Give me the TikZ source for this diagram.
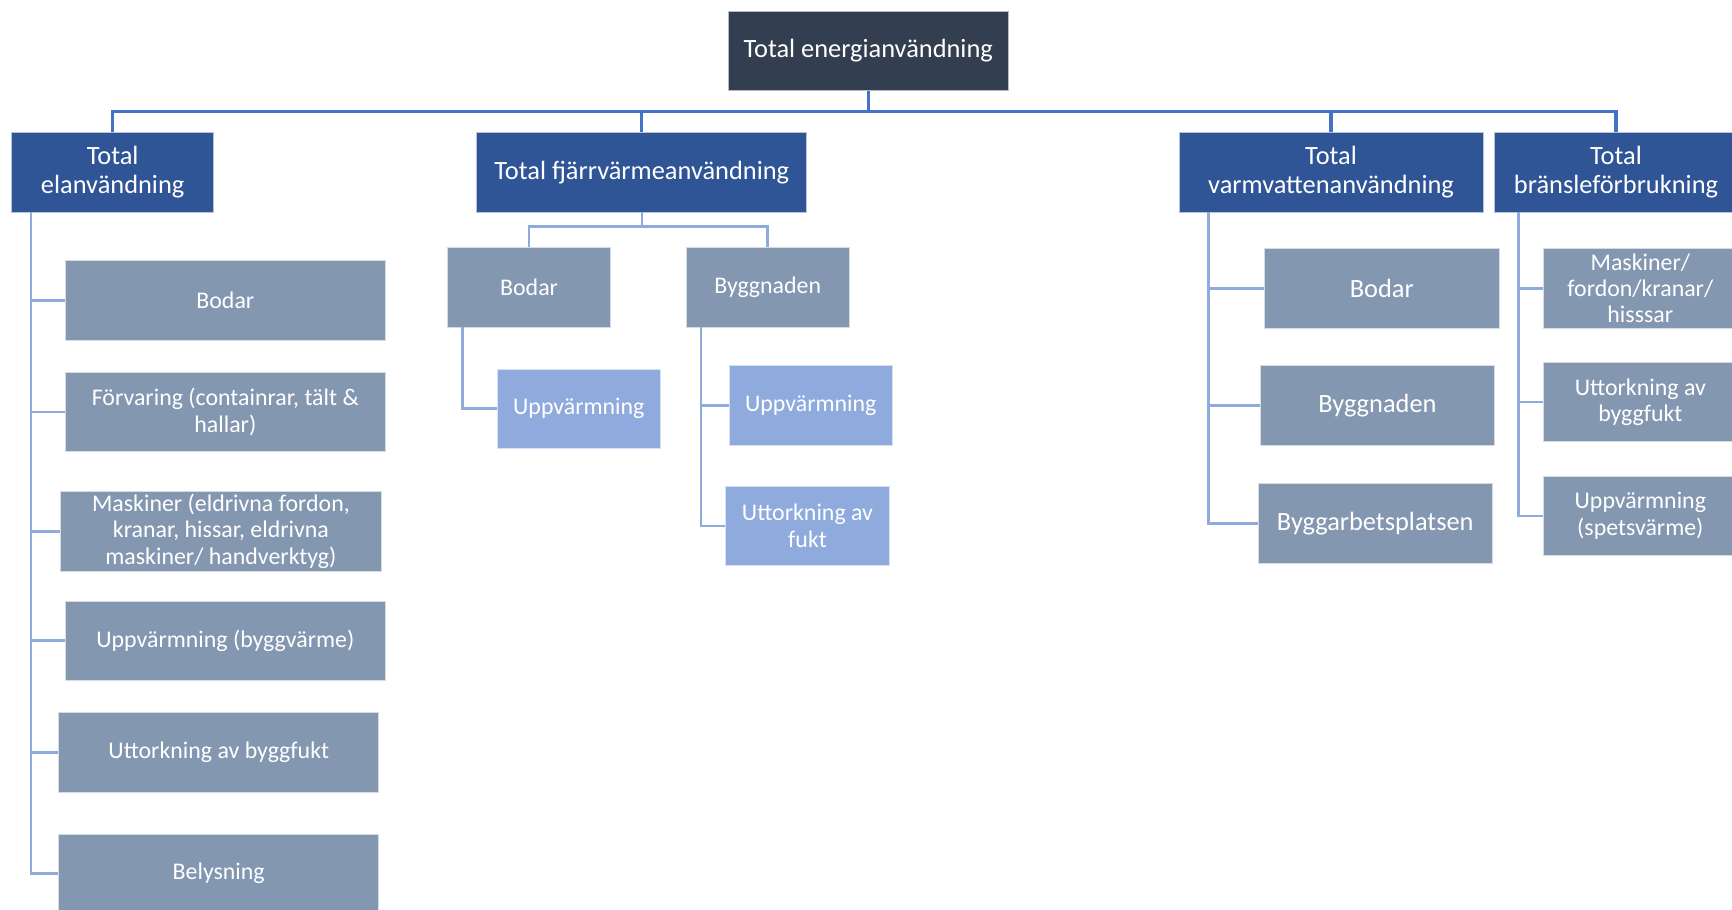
\documentclass[tikz,border=0pt]{standalone}
\usepackage{fontspec}
\setmainfont{Carlito}
\usepackage{tikz}

\definecolor{topfill}{HTML}{333F50}
\definecolor{totfill}{HTML}{2F5597}
\definecolor{subfill}{HTML}{8497B0}
\definecolor{leaffill}{HTML}{8FAADC}
\definecolor{trunkline}{HTML}{4472C4}
\definecolor{branchline}{HTML}{8FAADC}

\begin{document}
\begin{tikzpicture}[x=0.02cm, y=-0.02cm,
        main/.style = {draw=white!65!#1, fill=#1, text=white, align=center, minimum height=1.44cm, inner xsep=1pt, inner ysep=0pt},
        big/.style = {font=\fontsize{13.6}{14.8}\selectfont},
        small/.style = {font=\fontsize{12.3}{13.6}\selectfont},
        trunk/.style = {draw=trunkline, line width=1.7pt},
        branch/.style = {draw=branchline, line width=1.3pt}]
        \useasboundingbox (0,0) rectangle (1568,823.8);
        \clip (0,0) rectangle (1568,823.8);
        \fill[white] (0,0) rectangle (1568,823.8);

        \node[main=topfill, big, minimum width=5.06cm] (top) at (786,46) {Total energianvändning};

        \node[main=totfill, big, minimum width=3.66cm] (el) at (102,156) {Total\\elanvändning};
        \node[main=totfill, big, minimum width=5.98cm] (fv) at (581,156) {Total fjärrvärmeanvändning};
        \node[main=totfill, big, minimum width=5.5cm] (vv) at (1205,156) {Total\\varmvattenanvändning};
        \node[main=totfill, big, minimum width=4.4cm] (br) at (1463,156) {Total\\bränsleförbrukning};

        % el
        \node[main=subfill, small, minimum width=5.8cm] (el1) at (204,272) {Bodar};
        \node[main=subfill, small, minimum width=5.8cm] (el2) at (204,373) {Förvaring (containrar, tält \&\\hallar)};
        \node[main=subfill, small, minimum width=5.8cm] (el3) at (200,481) {Maskiner (eldrivna fordon,\\kranar, hissar, eldrivna\\maskiner/ handverktyg)};
        \node[main=subfill, small, minimum width=5.8cm] (el4) at (204,580) {Uppvärmning (byggvärme)};
        \node[main=subfill, small, minimum width=5.8cm] (el5) at (198,681) {Uttorkning av byggfukt};
        \node[main=subfill, small, minimum width=5.8cm] (el6) at (198,791) {Belysning};

        % fjärrvärme
        \node[main=subfill, small, minimum width=2.96cm] (fv1) at (479,260) {Bodar};
        \node[main=subfill, small, minimum width=2.96cm] (fv2) at (695,260) {Byggnaden};
        \node[main=leaffill, small, minimum width=2.96cm] (fv11) at (524,370) {Uppvärmning};
        \node[main=leaffill, small, minimum width=2.96cm] (fv21) at (734,367) {Uppvärmning};
        \node[main=leaffill, small, minimum width=2.96cm] (fv22) at (731,476) {Uttorkning av\\fukt};

        % varmvatten
        \node[main=subfill, big, minimum width=4.24cm] (vv1) at (1251,261) {Bodar};
        \node[main=subfill, big, minimum width=4.24cm] (vv2) at (1247,367) {Byggnaden};
        \node[main=subfill, big, minimum width=4.24cm] (vv3) at (1245,474) {Byggarbetsplatsen};

        % bränsle
        \node[main=subfill, small, minimum width=3.52cm] (br1) at (1485,261) {Maskiner/\\fordon/kranar/\\hisssar};
        \node[main=subfill, small, minimum width=3.52cm] (br2) at (1485,364) {Uttorkning av\\byggfukt};
        \node[main=subfill, small, minimum width=3.52cm] (br3) at (1485,467) {Uppvärmning\\(spetsvärme)};

        \coordinate (hub) at (786,101);
        \draw[trunk] (top.south) -- (hub);
        \draw[trunk] (el.north) |- (hub);
        \draw[trunk] (fv.north) |- (hub);
        \draw[trunk] (vv.north) |- (hub);
        \draw[trunk] (br.north) |- (hub);

        \draw[branch] ([xshift=0.36cm]el.south west) |- (el1.west);
        \draw[branch] ([xshift=0.36cm]el.south west) |- (el2.west);
        \draw[branch] ([xshift=0.36cm]el.south west) |- (el3.west);
        \draw[branch] ([xshift=0.36cm]el.south west) |- (el4.west);
        \draw[branch] ([xshift=0.36cm]el.south west) |- (el5.west);
        \draw[branch] ([xshift=0.36cm]el.south west) |- (el6.west);

        \coordinate (fvhub) at (581,205);
        \draw[branch] (fv.south) -- (fvhub);
        \draw[branch] (fv1.north) |- (fvhub);
        \draw[branch] (fv2.north) |- (fvhub);
        \draw[branch] ([xshift=0.28cm]fv1.south west) |- (fv11.west);
        \draw[branch] ([xshift=0.28cm]fv2.south west) |- (fv21.west);
        \draw[branch] ([xshift=0.28cm]fv2.south west) |- (fv22.west);

        \draw[branch] ([xshift=0.54cm]vv.south west) |- (vv1.west);
        \draw[branch] ([xshift=0.54cm]vv.south west) |- (vv2.west);
        \draw[branch] ([xshift=0.54cm]vv.south west) |- (vv3.west);

        \draw[branch] ([xshift=0.44cm]br.south west) |- (br1.west);
        \draw[branch] ([xshift=0.44cm]br.south west) |- (br2.west);
        \draw[branch] ([xshift=0.44cm]br.south west) |- (br3.west);
\end{tikzpicture}
\end{document}
